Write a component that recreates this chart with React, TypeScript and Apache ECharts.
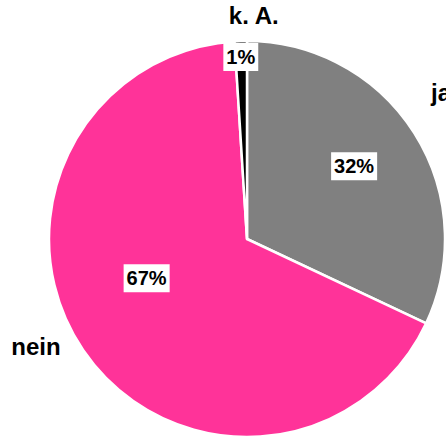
import React, { useEffect, useRef } from "react";
import * as echarts from "echarts";

const categories = ["ja", "nein", "k. A."];
const values = [32, 67, 1];
const colors = ["#808080", "#ff3399", "#000000"];
const innerOffsets = [[21, -18], [-16, -18], [-3, -80]];
const outerOffsets = [[-1, -23], [-20, -22], [14, 7]];

export default function App() {
  const ref = useRef<HTMLDivElement>(null);
  useEffect(() => {
    document.body.style.margin = "0";
    const chart = echarts.init(ref.current!, null, { renderer: "svg" });
    const font = "'Liberation Sans', Arial, sans-serif";
    chart.setOption({
      animation: false,
      backgroundColor: "#ffffff",
      series: [
        {
          type: "pie",
          center: [247, 239],
          radius: [0, 198],
          startAngle: 90,
          clockwise: true,
          silent: true,
          itemStyle: { borderColor: "#ffffff", borderWidth: 2.5 },
          labelLine: { show: false },
          data: categories.map((name, i) => ({
            name,
            value: values[i],
            itemStyle: { color: colors[i] },
            label: {
              show: true,
              position: "inside",
              formatter: "{c}%",
              offset: innerOffsets[i],
              color: "#000",
              fontFamily: font,
              fontWeight: "bold",
              fontSize: 20,
              lineHeight: 24,
              backgroundColor: "#ffffff",
              padding: [2, 3, 2, 3],
            },
          })),
        },
        {
          type: "pie",
          center: [247, 239],
          radius: [218, 238],
          startAngle: 90,
          clockwise: true,
          silent: true,
          z: 1,
          itemStyle: { color: "transparent", borderWidth: 0 },
          labelLine: { show: false },
          data: categories.map((name, i) => ({
            name,
            value: values[i],
            label: {
              show: true,
              position: "inside",
              formatter: "{b}",
              offset: outerOffsets[i],
              color: "#000",
              fontFamily: font,
              fontWeight: "bold",
              fontSize: 24,
            },
          })),
        },
      ],
    });
    return () => chart.dispose();
  }, []);
  return <div ref={ref} style={{ width: 446, height: 436 }} />;
}
